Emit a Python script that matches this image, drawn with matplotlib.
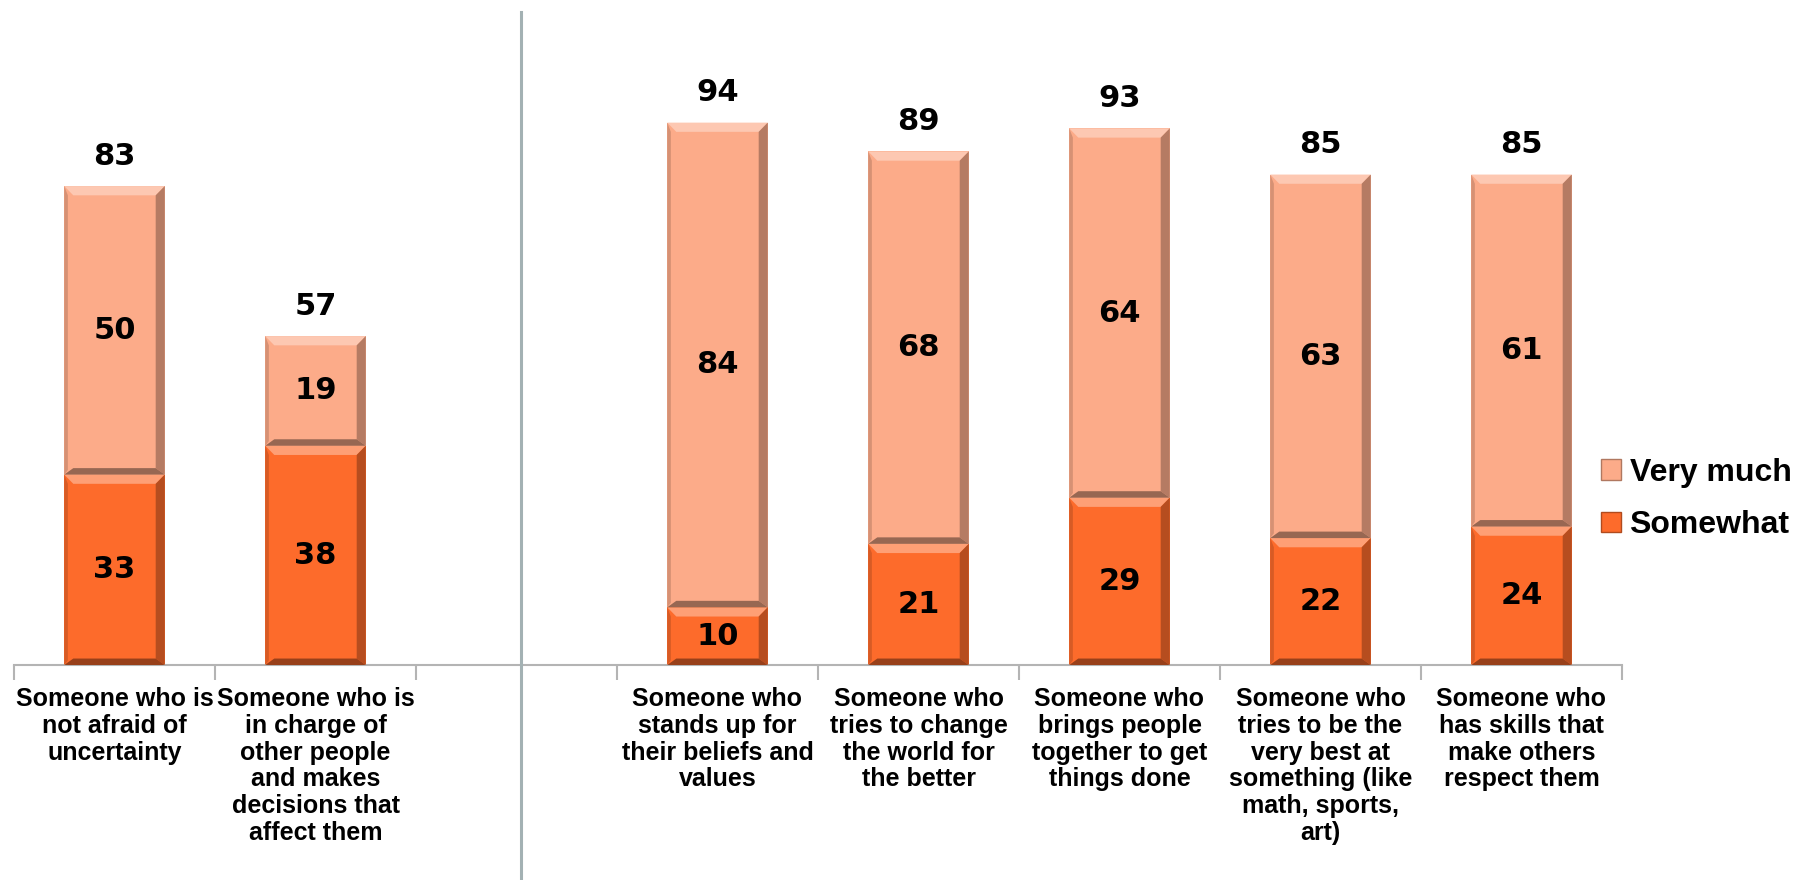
import matplotlib
matplotlib.use('Agg')
import matplotlib.pyplot as plt
from matplotlib.patches import Polygon, Patch
from matplotlib.lines import Line2D
import numpy as np

# data (slot 2 is the empty gap behind the divider)
categories = [
    "Someone who is\nnot afraid of\nuncertainty",
    "Someone who is\nin charge of\nother people\nand makes\ndecisions that\naffect them",
    "",
    "Someone who\nstands up for\ntheir beliefs and\nvalues",
    "Someone who\ntries to change\nthe world for\nthe better",
    "Someone who\nbrings people\ntogether to get\nthings done",
    "Someone who\ntries to be the\nvery best at\nsomething (like\nmath, sports,\nart)",
    "Someone who\nhas skills that\nmake others\nrespect them",
]
somewhat = [33, 38, None, 10, 21, 29, 22, 24]
very_much = [50, 19, None, 84, 68, 64, 63, 61]
totals = [83, 57, None, 94, 89, 93, 85, 85]

C_SOME = '#fd6b2b'
C_VERY = '#fcab89'

W, H = 1804, 880
fig = plt.figure(figsize=(W / 100, H / 100), dpi=100)
ax = fig.add_axes([14 / W, 215 / H, (1622 - 14) / W, 577 / H])

x = np.arange(len(categories))
idx = [i for i in x if somewhat[i] is not None]
s_vals = [somewhat[i] for i in idx]
v_vals = [very_much[i] for i in idx]
bw = 0.5

b1 = ax.bar(idx, s_vals, width=bw, color=C_SOME, zorder=2)
b2 = ax.bar(idx, v_vals, width=bw, bottom=s_vals, color=C_VERY, zorder=2)


def shade(c, f):
    r, g, b = matplotlib.colors.to_rgb(c)
    if f > 0:
        return (r + (1 - r) * f, g + (1 - g) * f, b + (1 - b) * f)
    return (r * (1 + f), g * (1 + f), b * (1 + f))


# rough bevel look like the office chart
dx, dy = 0.045, 1.6
for cont, col in ((b1, C_SOME), (b2, C_VERY)):
    for r in cont:
        x0, y0 = r.get_x(), r.get_y()
        x1, y1 = x0 + r.get_width(), y0 + r.get_height()
        polys = [
            ([(x0, y1), (x1, y1), (x1 - dx, y1 - dy), (x0 + dx, y1 - dy)], shade(col, 0.35)),
            ([(x1, y1), (x1, y0), (x1 - dx, y0 + dy * 0.7), (x1 - dx, y1 - dy)], shade(col, -0.28)),
            ([(x0, y0), (x1, y0), (x1 - dx, y0 + dy * 0.7), (x0 + dx, y0 + dy * 0.7)], shade(col, -0.4)),
            ([(x0, y1), (x0, y0), (x0 + dx * 0.4, y0 + dy * 0.5), (x0 + dx * 0.4, y1 - dy)], shade(col, -0.15)),
        ]
        for pts, fc in polys:
            ax.add_patch(Polygon(pts, closed=True, fc=fc, ec='none', zorder=3))

num_font = dict(fontsize=22, fontweight='bold', color='black', ha='center', va='center',
                family='DejaVu Sans', zorder=5)
for i, s, v in zip(idx, s_vals, v_vals):
    ax.text(i, s / 2, str(s), **num_font)
    ax.text(i, s + v / 2, str(v), **num_font)
    ax.text(i, totals[i] + 5.2, str(totals[i]), **num_font)

ax.set_xlim(-0.5, len(categories) - 0.5)
ax.set_ylim(0, 100)
ax.set_yticks([])
ax.set_xticks(x)
ax.set_xticklabels(categories, fontsize=18, fontweight='bold',
                   family=['Liberation Sans', 'DejaVu Sans'], linespacing=1.14)
ax.tick_params(axis='x', which='major', length=0, pad=16)
ax.set_xticks(np.arange(-0.5, len(categories)), minor=True)
ax.tick_params(axis='x', which='minor', length=11, color='#b4b4b4', width=1.5)
for sp in ('top', 'right', 'left'):
    ax.spines[sp].set_visible(False)
ax.spines['bottom'].set_color('#b4b4b4')
ax.spines['bottom'].set_linewidth(1.5)

# vertical divider between the two groups
fig.add_artist(Line2D([521 / W, 521 / W], [0, 1 - 12 / H], color='#a3b1b3', lw=2.2))

handles = [Patch(fc=C_VERY, ec=shade(C_VERY, -0.3)), Patch(fc=C_SOME, ec=shade(C_SOME, -0.3))]
fig.legend(handles, ['Very much', 'Somewhat'], loc='center left',
           bbox_to_anchor=(1572 / W, 1 - 499 / H), frameon=False,
           prop=dict(size=23, weight='bold', family='Liberation Sans'),
           handlelength=0.62, handleheight=0.62, handletextpad=0.28, labelspacing=0.7)

fig.savefig('out.png', dpi=100)
